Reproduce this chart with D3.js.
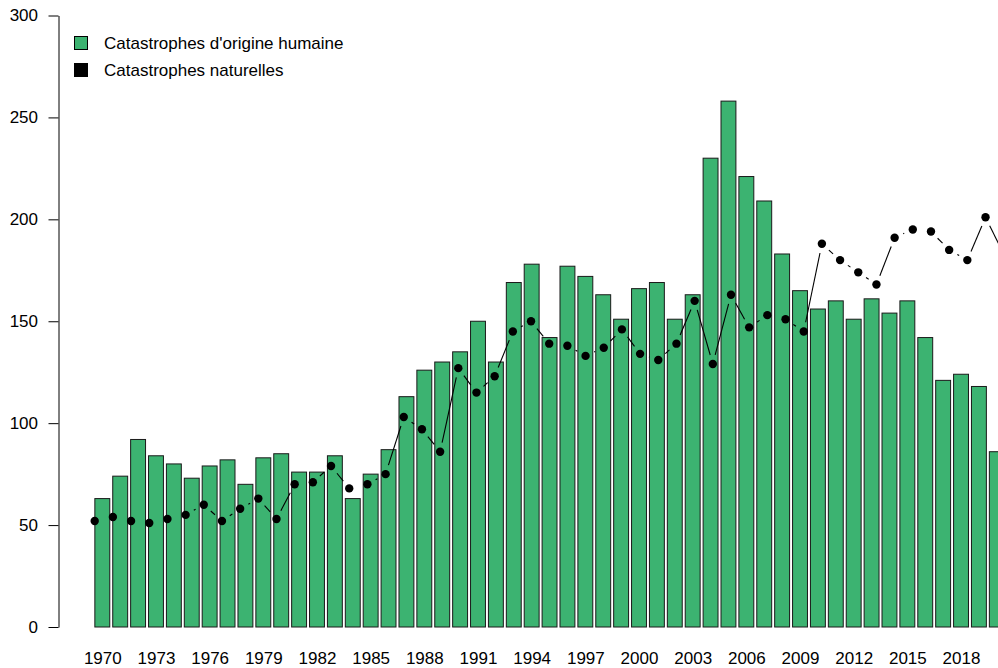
<!DOCTYPE html>
<html>
<head>
<meta charset="utf-8">
<script src="https://cdn.jsdelivr.net/npm/d3@7"></script>
<style>
  body { margin: 0; background: #fff; }
  svg { display: block; font-family: "Liberation Sans", Arial, sans-serif; }
</style>
</head>
<body>
<div id="container"></div>
<script>
// années (1970 - 2020)
var years = d3.range(1970, 2021);

// catastrophes d'origine humaine (barres)
var humaines = [63, 74, 92, 84, 80, 73, 79, 82, 70, 83,
                85, 76, 76, 84, 63, 75, 87, 113, 126, 130,
                135, 150, 130, 169, 178, 142, 177, 172, 163, 151,
                166, 169, 151, 163, 230, 258, 221, 209, 183, 165,
                156, 160, 151, 161, 154, 160, 142, 121, 124, 118,
                86];

// catastrophes naturelles (points + ligne)
var naturelles = [52, 54, 52, 51, 53, 55, 60, 52, 58, 63,
                  53, 70, 71, 79, 68, 70, 75, 103, 97, 86,
                  127, 115, 123, 145, 150, 139, 138, 133, 137, 146,
                  134, 131, 139, 160, 129, 163, 147, 153, 151, 145,
                  188, 180, 174, 168, 191, 195, 194, 185, 180, 201,
                  183];

var yTicks = [0, 50, 100, 150, 200, 250, 300];
var xLabels = d3.range(1970, 2019, 3);

var legendLabels = ["Catastrophes d'origine humaine", "Catastrophes naturelles"];
var legendColors = ["#3CB371", "#000000"];

var width = 998, height = 668;
var fontSize = "17px";

var svg = d3.select("#container").append("svg")
  .attr("width", width).attr("height", height);

// échelles
var yScale = d3.scaleLinear().domain([0, 300]).range([627, 15.5]);

var xBand = d3.scaleBand()
  .domain(years)
  .range([93.36, 93.36 + 51 * 17.89])
  .paddingInner(1 / 6)
  .paddingOuter(1 / 12);

// la ligne n'est pas alignée sur les barres (comme dans l'original)
var xLine = d3.scaleLinear().domain([1970, 2020]).range([94.7, 94.7 + 50 * 18.18]);

// barres
svg.append("g").selectAll("rect")
  .data(years)
  .enter().append("rect")
  .attr("x", function(d) { return xBand(d); })
  .attr("y", function(d, i) { return yScale(humaines[i]); })
  .attr("width", xBand.bandwidth())
  .attr("height", function(d, i) { return yScale(0) - yScale(humaines[i]); })
  .attr("fill", "#3CB371")
  .attr("stroke", "#1a1a1a")
  .attr("stroke-width", 1);

// ligne de type "b" : segments avec un vide autour des points
var pts = years.map(function(d, i) { return [xLine(d), yScale(naturelles[i])]; });
var gap = 9.4;
var segs = [];
for (var i = 0; i < pts.length - 1; i++) {
  var a = pts[i], b = pts[i + 1];
  var dx = b[0] - a[0], dy = b[1] - a[1];
  var len = Math.sqrt(dx * dx + dy * dy);
  if (len > 2 * gap) {
    var ux = dx / len, uy = dy / len;
    segs.push([a[0] + ux * gap, a[1] + uy * gap, b[0] - ux * gap, b[1] - uy * gap]);
  }
}
svg.append("g").selectAll("line")
  .data(segs)
  .enter().append("line")
  .attr("x1", function(d) { return d[0]; })
  .attr("y1", function(d) { return d[1]; })
  .attr("x2", function(d) { return d[2]; })
  .attr("y2", function(d) { return d[3]; })
  .attr("stroke", "#000")
  .attr("stroke-width", 1.1);

svg.append("g").selectAll("circle")
  .data(pts)
  .enter().append("circle")
  .attr("cx", function(d) { return d[0]; })
  .attr("cy", function(d) { return d[1]; })
  .attr("r", 4.2)
  .attr("fill", "#000");

// axe y
var yAxis = d3.axisLeft(yScale).tickValues(yTicks).tickSize(10).tickSizeOuter(0).tickPadding(10.5);
var gy = svg.append("g")
  .attr("transform", "translate(58.5,0)")
  .call(yAxis)
  .style("font-size", fontSize)
  .style("font-family", "\"Liberation Sans\", Arial, sans-serif");
gy.selectAll("path, line").attr("stroke", "#000");
gy.selectAll("text").attr("fill", "#000");

// étiquettes x (sans ligne d'axe)
var xAxis = d3.axisBottom(d3.scaleLinear().domain([1970, 2020]).range([xBand(1970) + xBand.bandwidth() / 2, xBand(2020) + xBand.bandwidth() / 2]))
  .tickValues(xLabels).tickFormat(d3.format("d")).tickSize(0).tickPadding(0);
var gx = svg.append("g")
  .attr("transform", "translate(0,651.8)")
  .call(xAxis)
  .style("font-size", fontSize)
  .style("font-family", "\"Liberation Sans\", Arial, sans-serif");
gx.select(".domain").remove();
gx.selectAll("text").attr("fill", "#000");

// légende
var leg = svg.append("g");
legendLabels.forEach(function(lab, i) {
  leg.append("rect")
    .attr("x", 74.5).attr("y", 36.5 + i * 27)
    .attr("width", 13).attr("height", 13)
    .attr("fill", legendColors[i])
    .attr("stroke", "#000");
  leg.append("text")
    .attr("x", 104).attr("y", 43 + i * 27)
    .attr("dy", "0.35em")
    .style("font-size", fontSize)
    .text(lab);
});
</script>
</body>
</html>
